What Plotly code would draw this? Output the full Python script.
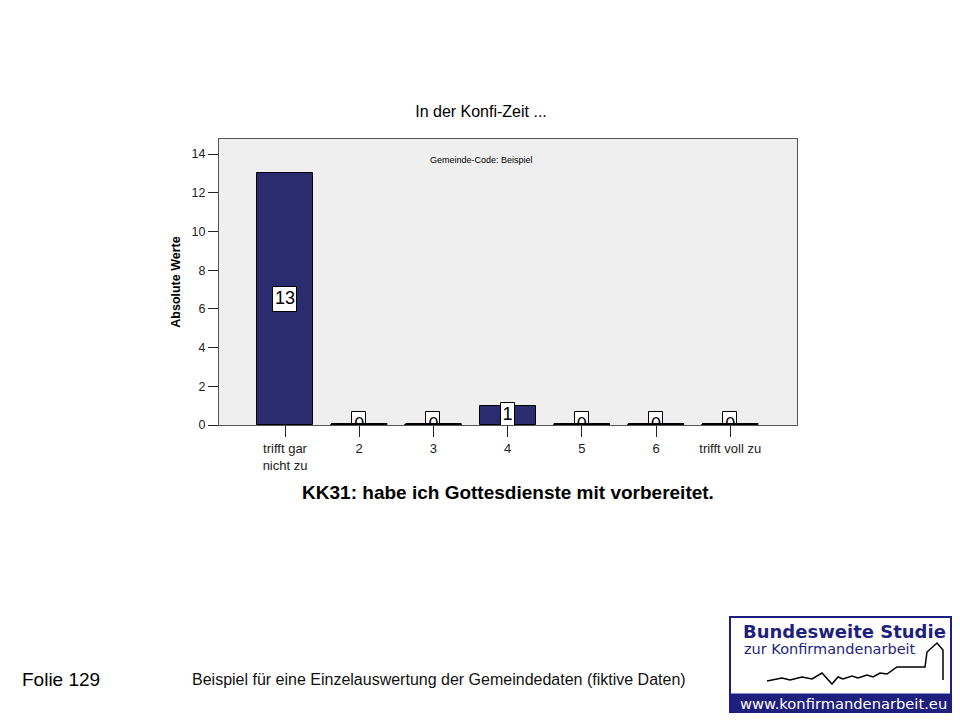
import plotly.graph_objects as go

# ---- data ----
categories = ["trifft gar<br>nicht zu", "2", "3", "4", "5", "6", "trifft voll zu"]
values = [13, 0, 0, 1, 0, 0, 0]
y_ticks = [0, 2, 4, 6, 8, 10, 12, 14]
chart_title = "In der Konfi-Zeit ..."
subtitle = "Gemeinde-Code: Beispiel"
x_title = "KK31: habe ich Gottesdienste mit vorbereitet."
y_title = "Absolute Werte"
slide_no = "Folie 129"
footer = "Beispiel für eine Einzelauswertung der Gemeindedaten (fiktive Daten)"

# ---- layout constants (screen pixel coordinates) ----
OFF = 8                      # page body margin
W, H = 960 - OFF, 720 - OFF  # figure size
L, R, T, B = 219, 797, 139, 425
BAR_W = 0.757
BOX_H = 1.3
NAVY = "#2B2B70"
LOGO_BLUE = "#1F1F7E"
FONT = "Liberation Sans, Arial, sans-serif"

xs = list(range(len(categories)))


def px(x):
    return (x - L) / (R - L)


def py(y):
    return (B - y) / (B - T)


fig = go.Figure()

# main bars
fig.add_trace(go.Bar(
    x=xs, y=values, width=BAR_W,
    marker=dict(color=NAVY, line=dict(color="black", width=1)),
    hoverinfo="skip", showlegend=False,
))

# zero-value bars drawn as thick lines
for xi, v in zip(xs, values):
    if v == 0:
        fig.add_trace(go.Scatter(
            x=[xi - BAR_W / 2, xi + BAR_W / 2], y=[v, v], mode="lines",
            line=dict(color="black", width=4),
            hoverinfo="skip", showlegend=False,
        ))

# label boxes (white, black border) centred at half of bar height
fig.add_trace(go.Bar(
    x=xs,
    y=[BOX_H] * len(values),
    base=[v / 2 - BOX_H / 2 for v in values],
    width=[0.33 if len(str(v)) > 1 else 0.19 for v in values],
    marker=dict(color="white", line=dict(color="black", width=1)),
    hoverinfo="skip", showlegend=False,
))

# label texts
fig.add_trace(go.Scatter(
    x=xs, y=[v / 2 for v in values], mode="text",
    text=[str(v) for v in values], textposition="middle center",
    textfont=dict(family=FONT, size=18, color="black"),
    cliponaxis=True, hoverinfo="skip", showlegend=False,
))

annotations = [
    dict(text=subtitle, x=px(481), y=py(160), xref="paper", yref="paper",
         showarrow=False, font=dict(family=FONT, size=9, color="black"),
         xanchor="center", yanchor="middle"),
    dict(text=slide_no, x=px(20), y=py(679), xref="paper", yref="paper",
         showarrow=False, font=dict(family=FONT, size=19, color="black"),
         xanchor="left", yanchor="middle"),
    dict(text=footer, x=px(190), y=py(679), xref="paper", yref="paper",
         showarrow=False, font=dict(family=FONT, size=16, color="#111"),
         xanchor="left", yanchor="middle"),
    # logo texts
    dict(text="<b>Bundesweite Studie</b>", x=px(741), y=py(631), xref="paper", yref="paper",
         showarrow=False, font=dict(family="DejaVu Sans", size=18, color=LOGO_BLUE),
         xanchor="left", yanchor="middle"),
    dict(text="zur Konfirmandenarbeit", x=px(742), y=py(649), xref="paper", yref="paper",
         showarrow=False, font=dict(family="DejaVu Sans", size=14.5, color=LOGO_BLUE),
         xanchor="left", yanchor="middle"),
    dict(text="www.konfirmandenarbeit.eu", x=px(843), y=py(703), xref="paper", yref="paper",
         showarrow=False, font=dict(family="DejaVu Sans", size=14.7, color="white"),
         xanchor="center", yanchor="middle"),
]

squiggle = [(767, 681), (782, 678), (790, 680), (802, 677), (812, 679), (822, 673),
            (832, 684), (838, 677), (843, 679), (852, 676), (858, 678), (867, 675),
            (873, 677), (880, 673), (887, 674), (897, 667), (925, 667), (927, 652),
            (937, 643), (943, 650), (943, 680)]
path = "M " + " L ".join(f"{px(a):.5f},{py(b):.5f}" for a, b in squiggle)

shapes = [
    dict(type="rect", xref="paper", yref="paper", x0=px(730), x1=px(951), y0=py(712), y1=py(617),
         fillcolor="white", line=dict(color=LOGO_BLUE, width=2), layer="above"),
    dict(type="rect", xref="paper", yref="paper", x0=px(730), x1=px(951), y0=py(712), y1=py(694),
         fillcolor=LOGO_BLUE, line=dict(color=LOGO_BLUE, width=1), layer="above"),
    dict(type="path", xref="paper", yref="paper", path=path,
         line=dict(color="black", width=1.5), layer="above"),
]

fig.update_layout(
    width=W, height=H,
    margin=dict(l=L - OFF, r=W - (R - OFF), t=T - OFF, b=H - (B - OFF), pad=0),
    paper_bgcolor="white", plot_bgcolor="#EFEFEF",
    barmode="overlay", bargap=0,
    title=dict(text=chart_title, x=(481 - OFF) / W, y=1 - (111 - OFF) / H,
               xref="container", yref="container",
               xanchor="center", yanchor="middle",
               font=dict(family=FONT, size=16, color="black")),
    font=dict(family=FONT, color="#222"),
    xaxis=dict(range=[-0.89, 6.9], tickvals=xs, ticktext=categories,
               ticks="outside", ticklen=11, tickcolor="#222", tickwidth=1,
               showline=True, mirror=True, linecolor="#555", linewidth=1,
               showgrid=False, zeroline=False,
               tickfont=dict(family=FONT, size=13, color="#222"),
               title=dict(text="<b>" + x_title + "</b>", standoff=14,
                          font=dict(family=FONT, size=19, color="black"))),
    yaxis=dict(range=[0, 14.78], tickvals=y_ticks,
               ticks="outside", ticklen=10, tickcolor="#222", tickwidth=1,
               showline=True, mirror=True, linecolor="#555", linewidth=1,
               showgrid=False, zeroline=False,
               tickfont=dict(family=FONT, size=12.5, color="#222"),
               title=dict(text="<b>" + y_title + "</b>", standoff=8,
                          font=dict(family=FONT, size=12.5, color="black"))),
    annotations=annotations,
    shapes=shapes,
)

fig.write_html("out.html")
